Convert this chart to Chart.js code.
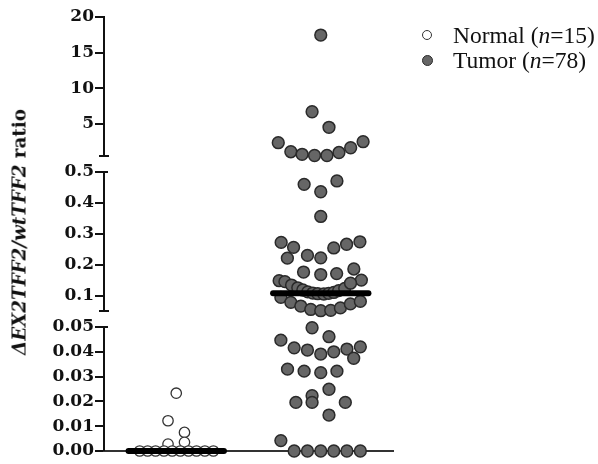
<!DOCTYPE html>
<html>
<head>
<meta charset="utf-8">
<script src="https://cdn.jsdelivr.net/npm/chart.js@4.4.0/dist/chart.umd.min.js"></script>
<style>
  body { margin: 0; background: #fff; }
  #wrap { position: relative; width: 598px; height: 464px; }
  #yTitle {
    position: absolute; left: 19px; top: 232px;
    transform: translate(-50%, -50%) rotate(-90deg);
    font: bold 18.3px "DejaVu Serif", serif; color: #111; white-space: nowrap;
  }
  #legend { position: absolute; left: 420px; top: 23px; font: 23.5px "Liberation Serif", serif; color: #111; }
  .item { position: relative; height: 25px; line-height: 25px; padding-left: 33px; white-space: nowrap; }
  .dot { position: absolute; left: 2px; top: 7px; width: 10px; height: 10px; border-radius: 50%; box-sizing: border-box; }
  .dot.open { background: #fff; border: 1.5px solid #333; }
  .dot.filled { background: #666; border: 1.5px solid #2a2a2a; width: 11px; height: 11px; left: 1.5px; }
</style>
</head>
<body>
<div id="wrap">
  <canvas id="dotCanvas" width="598" height="464"></canvas>
  <div id="yTitle"><i>ΔEX2TFF2/wtTFF2</i> ratio</div>
  <div id="legend"></div>
</div>
<script>
// groups on the x axis (category 1 and 2)
var groups = ['Normal', 'Tumor'];

var normalValues = [0.0233, 0.0122, 0.0075, 0.0028, 0.0035, 0, 0, 0, 0, 0, 0, 0, 0, 0, 0];
var normalSpread = [0, -0.057, 0.057, -0.057, 0.057, -0.253, -0.198, -0.143, -0.085, -0.028, 0.028, 0.085, 0.140, 0.198, 0.257];

var tumorValues = [
    17.47, 6.71, 4.53, 2.37, 1.10, 0.74, 0.57, 0.57, 0.99, 1.66, 2.51,
    0.460, 0.471, 0.436, 0.356, 0.272, 0.256, 0.254, 0.266, 0.274, 0.221, 0.230, 0.222, 0.176, 0.168, 0.171, 0.186, 0.150,
    0.148, 0.145, 0.134, 0.125, 0.118, 0.112, 0.108, 0.106, 0.105, 0.107, 0.110, 0.116, 0.123, 0.140,
    0.094, 0.078, 0.066, 0.055, 0.051, 0.052, 0.060, 0.073, 0.081,
    0.0497, 0.0461, 0.0447, 0.0416, 0.0407, 0.0391, 0.0400, 0.0411, 0.0420, 0.0374,
    0.0330, 0.0322, 0.0316, 0.0322, 0.0249, 0.0223, 0.0196, 0.0196, 0.0196, 0.0145, 0.0042,
    0, 0, 0, 0, 0, 0
];
var tumorSpread = [
    0, -0.060, 0.057, -0.294, -0.207, -0.129, -0.043, 0.043, 0.126, 0.207, 0.293,
    -0.115, 0.112, 0, 0, -0.274, -0.188, 0.090, 0.179, 0.271, -0.231, -0.092, 0, -0.119, 0, 0.110, 0.229, 0.281,
    -0.288, -0.248, -0.202, -0.159, -0.124, -0.090, -0.055, -0.021, 0.021, 0.055, 0.090, 0.124, 0.166, 0.206,
    -0.276, -0.207, -0.138, -0.069, 0, 0.069, 0.136, 0.205, 0.274,
    -0.060, 0.057, -0.276, -0.184, -0.092, 0, 0.090, 0.181, 0.274, 0.228,
    -0.230, -0.115, 0, 0.112, 0.057, -0.060, -0.172, -0.060, 0.170, 0.057, -0.276,
    -0.184, -0.092, 0, 0.090, 0.181, 0.274
];

// y axis ticks (the axis is broken in three parts)
var yTickValues = [0, 0.01, 0.02, 0.03, 0.04, 0.05, 0.1, 0.2, 0.3, 0.4, 0.5, 5, 10, 15, 20];
var yTickLabels = ['0.00', '0.01', '0.02', '0.03', '0.04', '0.05', '0.1', '0.2', '0.3', '0.4', '0.5', '5', '10', '15', '20'];
var yBreaks = [0, 0.05, 0.5, 20];

// where each axis part sits, as a share of the plot height (from the bottom)
var SEGMENTS = [
    { lo: yBreaks[0], hi: yBreaks[1], from: 0,      to: 0.2857 },
    { lo: yBreaks[1], hi: yBreaks[2], from: 0.3226, to: 0.6429 },
    { lo: yBreaks[2], hi: yBreaks[3], from: 0.6797, to: 1 }
];
var MEDIAN_HALF = 0.33;

function median(arr){
    var s = arr.slice().sort(function(a, b){ return a - b; });
    var m = Math.floor(s.length / 2);
    return s.length % 2 ? s[m] : (s[m - 1] + s[m]) / 2;
}

// linear scale with a piecewise mapping, for the broken y axis
class BrokenScale extends Chart.LinearScale {
    static id = 'broken';
    buildTicks() {
        return yTickValues.map(function(v){ return { value: v }; });
    }
    getPixelForValue(v) {
        if (v === null || isNaN(v)) return NaN;
        var seg = SEGMENTS[SEGMENTS.length - 1];
        for (var i = 0; i < SEGMENTS.length; i++) {
            if (v <= SEGMENTS[i].hi) { seg = SEGMENTS[i]; break; }
        }
        var d = seg.from + (v - seg.lo) / (seg.hi - seg.lo) * (seg.to - seg.from);
        return this.getPixelForDecimal(d);
    }
    getValueForPixel(p) {
        var d = this.getDecimalForPixel(p);
        for (var i = 0; i < SEGMENTS.length; i++) {
            var s = SEGMENTS[i];
            if (d <= s.to) return s.lo + (d - s.from) / (s.to - s.from) * (s.hi - s.lo);
        }
        return this.max;
    }
}
Chart.register(BrokenScale);

// draws the y axis line in pieces, with end caps
var brokenAxis = {
    id: 'brokenAxis',
    afterDraw: function(chart){
        var y = chart.scales.y;
        var ctx = chart.ctx;
        var x0 = chart.chartArea.left;
        ctx.save();
        ctx.strokeStyle = '#111';
        ctx.lineWidth = 2;
        SEGMENTS.forEach(function(s, i){
            var top = y.getPixelForDecimal(s.to);
            var bot = y.getPixelForDecimal(s.from);
            ctx.beginPath();
            ctx.moveTo(x0, top - 1);
            ctx.lineTo(x0, bot);
            if (i < SEGMENTS.length - 1) {
                ctx.moveTo(x0 - 1, top);
                ctx.lineTo(x0 + 4, top);
            }
            if (i > 0) {
                ctx.moveTo(x0 - 5, bot);
                ctx.lineTo(x0 + 5, bot);
            }
            ctx.stroke();
        });
        ctx.restore();
    }
};

var normalPoints = normalValues.map(function(v, i){ return { x: 1 + normalSpread[i], y: v }; });
var tumorPoints = tumorValues.map(function(v, i){ return { x: 2 + tumorSpread[i], y: v }; });
var normalMed = median(normalValues);
var tumorMed = median(tumorValues);

var config = {
    type: 'scatter',
    data: {
        datasets: [{
            label: 'Normal median',
            data: [{ x: 1 - MEDIAN_HALF, y: normalMed }, { x: 1 + MEDIAN_HALF, y: normalMed }],
            showLine: true, borderColor: '#000', borderWidth: 6, borderCapStyle: 'round',
            pointRadius: 0, clip: false, order: 0
        },{
            label: 'Tumor median',
            data: [{ x: 2 - MEDIAN_HALF, y: tumorMed }, { x: 2 + MEDIAN_HALF, y: tumorMed }],
            showLine: true, borderColor: '#000', borderWidth: 6, borderCapStyle: 'round',
            pointRadius: 0, clip: false, order: 0
        },{
            label: groups[0],
            data: normalPoints,
            pointRadius: 5.2, pointBackgroundColor: '#fff', pointBorderColor: '#333', pointBorderWidth: 1.3,
            clip: false, order: 1
        },{
            label: groups[1],
            data: tumorPoints,
            pointRadius: 5.9, pointBackgroundColor: '#666', pointBorderColor: '#2a2a2a', pointBorderWidth: 1.5,
            clip: false, order: 1
        }]
    },
    options: {
        responsive: false,
        animation: false,
        events: [],
        layout: { padding: { left: 0, top: 17, right: 205, bottom: 13 } },
        plugins: { legend: { display: false }, tooltip: { enabled: false } },
        scales: {
            x: {
                type: 'linear', min: 0.5, max: 2.5,
                ticks: { display: false },
                grid: { display: false, drawTicks: false },
                border: { display: true, color: '#333', width: 2 },
                afterFit: function(s){ s.height = 0; }
            },
            y: {
                type: 'broken', min: 0, max: 20,
                border: { display: false },
                grid: { drawOnChartArea: false, drawTicks: true, tickLength: 9, color: '#111', lineWidth: 2 },
                ticks: {
                    autoSkip: false, padding: 1, color: '#111',
                    font: { family: 'DejaVu Serif', weight: 'bold', size: 17 },
                    callback: function(v, i){ return yTickLabels[i]; }
                },
                afterFit: function(s){ s.width = 104; }
            }
        }
    },
    plugins: [brokenAxis]
};
new Chart(document.getElementById('dotCanvas'), config);

// legend with italic n
document.getElementById('legend').innerHTML =
    '<div class="item"><span class="dot open"></span>' + groups[0] + ' (<i>n</i>=' + normalValues.length + ')</div>' +
    '<div class="item"><span class="dot filled"></span>' + groups[1] + ' (<i>n</i>=' + tumorValues.length + ')</div>';
</script>
</body>
</html>
